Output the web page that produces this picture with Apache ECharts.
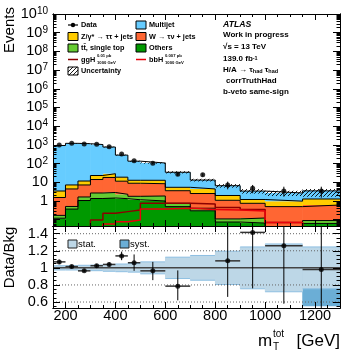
<!DOCTYPE html>
<html><head><meta charset="utf-8">
<script src="https://cdn.jsdelivr.net/npm/echarts@6/dist/echarts.min.js"></script>
<style>html,body{margin:0;padding:0;background:#fff}#c{width:343px;height:352px}</style>
</head><body><div id="c"></div>
<script>
// ---------------- data ----------------
const binEdges   = [150,200,250,300,350,400,450,500,600,700,800,900,1000,1150,1300];
const dataVals   = [990,1230,1120,1070,800,325,143,104,27,25,7.2,4.8,3.4,3.4];
const dataErrLo  = [955,1195,1087,1040,775,307,131,94,22,20,4.2,2.6,1.7,1.5];
const dataErrHi  = [1025,1265,1153,1100,826,343,155,114,32,30,10.8,7.2,5.8,5.8];
const others     = [0.12,0.37,1.06,1.36,1.45,1.33,1.17,1.0,0.5,0.30,0.075,0.066,0.01,0.063];
const ttbar      = [0.05,0.14,0.58,1.32,1.40,0.95,0.61,0.85,0.25,0.11,0.035,0.057,0.01,0.027];
const wjets      = [1.37,3.9,5.56,11.4,15.3,9.2,7.1,6.55,2.8,2.1,0.98,0.63,0.48,0.52];
const zjets      = [1.88,2.8,4.5,9.0,10.7,7.3,3.95,4.4,1.85,1.9,0.88,0.45,0.48,0.67];
const multijet   = [922,1205,1148,1021,740,266,122,95,29,8.8,4.6,2.2,1.7,2.2];
const ggH        = [1e-4,1e-4,1e-4,0.096,0.22,0.27,0.33,0.75,0.75,0.7,0.45,0.35,0.07,1e-4];
const bbH        = [1e-4,1e-4,1e-4,1e-4,0.059,0.078,0.096,0.37,0.41,0.35,0.33,0.29,0.07,1e-4];
const ratioVals  = [1.07,1.015,0.965,1.025,1.04,1.14,1.06,0.965,0.786,1.9,1.082,1.415,1.26,0.98];
const ratioLo    = [1.045,0.995,0.95,1.005,1.015,1.09,0.965,0.856,0.62,1.6,0.66,0.76,0.58,0.3];
const ratioHi    = [1.095,1.035,0.985,1.045,1.065,1.19,1.157,1.07,0.97,2.3,1.8,2.1,2.2,1.9];
const statErr    = [0.025,0.025,0.03,0.033,0.04,0.045,0.05,0.07,0.125,0.145,0.195,0.245,0.28,0.245];
const systDn     = [0.02,0.02,0.02,0.02,0.02,0.03,0.03,0.04,0.06,0.08,0.1,0.12,0.14,0.45];
const systUp     = [0.02,0.02,0.02,0.02,0.02,0.03,0.03,0.04,0.06,0.08,0.1,0.12,0.14,0.0];
const xLabelTicks   = [200,400,600,800,1000,1200];
const yMainLabels   = [1,10,100,1e3,1e4,1e5,1e6,1e7,1e8,1e9,1e10];
const yRatioLabels  = [0.6,0.8,1,1.2,1.4];
const ratioGridLines = [0.6,0.8,1.2,1.4];

// ---------------- helpers ----------------
const F = "'Liberation Sans', Arial, Helvetica, sans-serif";
const nB = dataVals.length;
const centers = dataVals.map((v,i)=>(binEdges[i]+binEdges[i+1])/2);
const stepData = vals => binEdges.map((e,i)=>[e, vals[Math.min(i, vals.length-1)]]);
const xMinor = []; for (let v=150; v<=1300; v+=50) xMinor.push(v);
const yMainMajor = [0.1].concat(yMainLabels);
const yMainMinor = []; for (let k=-2;k<=9;k++) for (let m=2;m<=9;m++) yMainMinor.push(+(m*Math.pow(10,k)).toPrecision(3));
const yRatioMinor = []; for (let k=11;k<=29;k++) yRatioMinor.push(+(k*0.05).toFixed(2));

function hatch(){
  const c=document.createElement('canvas'); c.width=4; c.height=4;
  const g=c.getContext('2d'); g.strokeStyle='#000'; g.lineWidth=0.9;
  g.beginPath(); g.moveTo(0,4); g.lineTo(4,0); g.moveTo(-1,1); g.lineTo(1,-1); g.moveTo(3,5); g.lineTo(5,3); g.stroke();
  return {image:c, repeat:'repeat'};
}
const HATCH = hatch();

function xAx(grid,pos,ticks,len,labels){
  return {type:'value',gridIndex:grid,position:pos,min:150,max:1300,z:10,
    axisLine:{show:true,onZero:false,lineStyle:{color:'#000',width:1}},
    axisTick:{show:true,inside:true,length:len,customValues:ticks,lineStyle:{color:'#000',width:1}},
    axisLabel:labels?{show:true,customValues:labels,color:'#000',fontSize:14.5,fontFamily:F,margin:0,formatter:v=>String(v)}:{show:false},
    splitLine:{show:false}};
}
function yAx(grid,pos,type,min,max,ticks,len,labels,fmt){
  const o={type:type,gridIndex:grid,position:pos,min:min,max:max,z:10,
    axisLine:{show:true,onZero:false,lineStyle:{color:'#000',width:1}},
    axisTick:{show:true,inside:true,length:len,customValues:ticks,lineStyle:{color:'#000',width:1}},
    axisLabel:{show:false},splitLine:{show:false}};
  if(type==='log') o.logBase=10;
  if(labels) o.axisLabel={show:true,customValues:labels,color:'#000',fontSize:14.5,fontFamily:F,margin:5,formatter:fmt,
     rich:{s:{fontSize:10,fontFamily:F,color:'#000',verticalAlign:'top'}}};
  return o;
}
const yMin=0.046, yMax=1e10, rMin=0.53, rMax=1.49;
const logFmt = v => { const p=Math.round(Math.log10(v)); return p===0?'1':(p===1?'10':'10{s|'+p+'}'); };
const ratFmt = v => (Math.abs(v-1)<1e-9?'1':String(v));

const comps=[
  {vals:others,color:'#009900'},
  {vals:ttbar,color:'#66cc33'},
  {vals:wjets,color:'#ff6633'},
  {vals:zjets,color:'#ffcc00'},
  {vals:multijet,color:'#66ccff'}];
// cumulative stack boundaries
const cum=[]; let run=new Array(nB).fill(0);
comps.forEach(c=>{ run=run.map((r,i)=>r+c.vals[i]); cum.push(run.slice()); });
const totals = cum[cum.length-1];

const series=[];
const fillData=[];
comps.forEach((c,k)=>{ for(let i=0;i<nB;i++) fillData.push([binEdges[i],binEdges[i+1],k===0?1e-4:cum[k-1][i],cum[k][i],k]); });
series.push({type:'custom',xAxisIndex:0,yAxisIndex:0,clip:true,z:2,silent:true,data:fillData,encode:{x:[0,1],y:[2,3]},
  renderItem:(p,api)=>{const a=api.coord([api.value(0),api.value(3)]),b=api.coord([api.value(1),api.value(2)]);
    return {type:'rect',shape:{x:a[0]-0.3,y:a[1],width:b[0]-a[0]+0.6,height:b[1]-a[1]},style:{fill:comps[api.value(4)].color}};}});
cum.forEach(cv=>series.push({type:'line',xAxisIndex:0,yAxisIndex:0,step:'end',data:stepData(cv),symbol:'none',
  lineStyle:{color:'#000',width:1},z:3,silent:true}));
series.push({type:'custom',xAxisIndex:0,yAxisIndex:0,clip:true,z:3,silent:true,
  data: totals.map((t,i)=>[binEdges[i],binEdges[i+1],t*(1-Math.hypot(statErr[i],systDn[i])),t*(1+Math.hypot(statErr[i],systUp[i]))]),
  encode:{x:[0,1],y:[2,3]},
  renderItem:(p,api)=>{const a=api.coord([api.value(0),api.value(3)]),b=api.coord([api.value(1),api.value(2)]);
    return {type:'rect',shape:{x:a[0],y:a[1],width:b[0]-a[0],height:b[1]-a[1]},style:{fill:HATCH}};}});
series.push({type:'line',xAxisIndex:0,yAxisIndex:0,step:'end',data:stepData(ggH),symbol:'none',lineStyle:{color:'#8b0000',width:1.5},z:4,silent:true});
series.push({type:'line',xAxisIndex:0,yAxisIndex:0,step:'end',data:stepData(bbH),symbol:'none',lineStyle:{color:'#e8000b',width:1.5},z:4,silent:true});
series.push({type:'custom',xAxisIndex:0,yAxisIndex:0,clip:true,z:5,silent:true,
  data: centers.map((c,i)=>[c,dataErrLo[i],dataErrHi[i]]),encode:{x:0,y:[1,2]},
  renderItem:(p,api)=>{const a=api.coord([api.value(0),api.value(1)]),b=api.coord([api.value(0),api.value(2)]);
    return {type:'line',shape:{x1:a[0],y1:a[1],x2:b[0],y2:b[1]},style:{stroke:'#000',lineWidth:1}};}});
series.push({type:'scatter',xAxisIndex:0,yAxisIndex:0,data:centers.map((c,i)=>[c,dataVals[i]]),symbol:'circle',symbolSize:5,
  itemStyle:{color:'#000'},z:6,silent:true});

function bandSeries(lo,hi,fill,edge,z){
  return {type:'custom',xAxisIndex:4,yAxisIndex:4,clip:true,z:z,silent:true,
    data: centers.map((c,i)=>[binEdges[i],binEdges[i+1],1-lo[i],1+hi[i]]),encode:{x:[0,1],y:[2,3]},
    renderItem:(p,api)=>{const a=api.coord([api.value(0),api.value(3)]),b=api.coord([api.value(1),api.value(2)]);
      const ch=[{type:'rect',shape:{x:a[0]-0.3,y:a[1],width:b[0]-a[0]+0.6,height:b[1]-a[1]},style:{fill:fill}}];
      if(edge){ch.push({type:'line',shape:{x1:a[0],y1:a[1],x2:b[0],y2:a[1]},style:{stroke:edge,lineWidth:1}});
               ch.push({type:'line',shape:{x1:a[0],y1:b[1],x2:b[0],y2:b[1]},style:{stroke:edge,lineWidth:1}});}
      return {type:'group',children:ch};}};
}
series.push(bandSeries(systDn,systUp,'#6baed6',null,2));
series.push(bandSeries(statErr,statErr,'#bdd7e7','#8ebfe2',2));
series.push({type:'custom',xAxisIndex:4,yAxisIndex:4,clip:true,z:3,silent:true,data:ratioGridLines.map(v=>[150,v]),encode:{x:0,y:1},
  renderItem:(p,api)=>{const a=api.coord([150,api.value(1)]),b=api.coord([1300,api.value(1)]);
    return {type:'line',shape:{x1:a[0],y1:a[1],x2:b[0],y2:b[1]},style:{stroke:'#666',lineWidth:1,lineDash:[1,2]}};}});
series.push({type:'custom',xAxisIndex:4,yAxisIndex:4,clip:true,z:3,silent:true,data:[[150,1]],encode:{x:0,y:1},
  renderItem:(p,api)=>{const a=api.coord([150,1]),b=api.coord([1300,1]);
    return {type:'line',shape:{x1:a[0],y1:a[1],x2:b[0],y2:b[1]},style:{stroke:'#444',lineWidth:1.5}};}});
series.push({type:'custom',xAxisIndex:4,yAxisIndex:4,clip:true,z:5,silent:true,
  data: centers.map((c,i)=>[c,ratioVals[i],ratioLo[i],ratioHi[i],binEdges[i],binEdges[i+1]]),encode:{x:0,y:1},
  renderItem:(p,api)=>{const y=api.value(1);
    const h1=api.coord([api.value(4),y]),h2=api.coord([api.value(5),y]);
    const v1=api.coord([api.value(0),api.value(2)]),v2=api.coord([api.value(0),api.value(3)]);
    return {type:'group',children:[
      {type:'line',shape:{x1:h1[0],y1:h1[1],x2:h2[0],y2:h2[1]},style:{stroke:'#333',lineWidth:1.5}},
      {type:'line',shape:{x1:v1[0],y1:v1[1],x2:v2[0],y2:v2[1]},style:{stroke:'#000',lineWidth:1}}]};}});
series.push({type:'scatter',xAxisIndex:4,yAxisIndex:4,data:centers.map((c,i)=>[c,ratioVals[i]]),symbol:'circle',symbolSize:5,
  itemStyle:{color:'#000'},z:6,silent:true,clip:true});

// ---------------- text / legend graphics ----------------
const LF = {fontFamily:F,fontSize:7.3,fontWeight:'bold',fill:'#000',verticalAlign:'middle',align:'left'};
const T = (x,y,text,extra)=>({type:'text',x:x,y:y,style:Object.assign({text:text},LF,extra||{})});
const box = (x,y,fill)=>({type:'rect',shape:{x:x,y:y-4,width:10,height:8},style:{fill:fill,stroke:'#000',lineWidth:1}});
const G=[];
G.push({type:'line',shape:{x1:68,y1:25,x2:78,y2:25},style:{stroke:'#000',lineWidth:1.2}});
G.push({type:'circle',shape:{cx:73,cy:25,r:2.2},style:{fill:'#000'}});
G.push(T(81,25,'Data'));
G.push(box(136,25,'#66ccff')); G.push(T(149,25,'Multijet'));
G.push(box(68,36.5,'#ffcc00')); G.push(T(81,36.5,'Z/γ* → ττ + jets'));
G.push(box(136,36.5,'#ff6633')); G.push(T(149,36.5,'W → τν + jets'));
G.push(box(68,48,'#66cc33')); G.push(T(81,48,'tt\u0304, single top'));
G.push(box(136,48,'#009900')); G.push(T(149,48,'Others'));
G.push({type:'line',shape:{x1:68,y1:59.5,x2:78,y2:59.5},style:{stroke:'#8b0000',lineWidth:1.5}});
G.push(T(81,59.5,'ggH'));
G.push(T(97,55.5,'0.01 pb',{fontSize:4.2}));
G.push(T(97,63,'1000 GeV',{fontSize:4.2}));
G.push({type:'line',shape:{x1:136,y1:59.5,x2:146,y2:59.5},style:{stroke:'#e8000b',lineWidth:1.5}});
G.push(T(149,59.5,'bbH'));
G.push(T(165,55.5,'0.007 pb',{fontSize:4.2}));
G.push(T(165,63,'1000 GeV',{fontSize:4.2}));
G.push({type:'rect',shape:{x:68,y:67,width:10,height:8},style:{fill:HATCH,stroke:'#000',lineWidth:1}});
G.push(T(81,71,'Uncertainty'));
const AF={fontSize:8,fontWeight:'bold'};
G.push(T(223,25,'ATLAS',{fontSize:8.7,fontWeight:'bold',fontStyle:'italic'}));
G.push(T(223,34.5,'Work in progress',AF));
G.push(T(223,47,'√s = 13 TeV',AF));
G.push(T(223,59,'139.0 fb{s|-1}',Object.assign({rich:{s:{fontSize:5.5,fontWeight:'bold',fontFamily:F,verticalAlign:'top'}}},AF)));
G.push(T(223,70,'H/A → τ{b|had} τ{b|had}',Object.assign({rich:{b:{fontSize:5.5,fontWeight:'bold',fontFamily:F,verticalAlign:'bottom'}}},AF)));
G.push(T(226,81,'corrTruthHad',AF));
G.push(T(223,92,'b-veto same-sign',AF));
G.push({type:'rect',shape:{x:68,y:240,width:9,height:8},style:{fill:'#bdd7e7',stroke:'#222',lineWidth:1}});
G.push(T(78,244.5,'stat.',{fontSize:9.5,fontWeight:'normal'}));
G.push({type:'rect',shape:{x:120,y:240,width:9,height:8},style:{fill:'#6baed6',stroke:'#222',lineWidth:1}});
G.push(T(130,244.5,'syst.',{fontSize:9.5,fontWeight:'normal'}));
const AT={fontFamily:F,fontSize:15,fill:'#000',fontWeight:'normal'};
G.push({type:'text',x:10,y:30,rotation:Math.PI/2,style:Object.assign({text:'Events',align:'center',verticalAlign:'middle'},AT)});
G.push({type:'text',x:10,y:257.5,rotation:Math.PI/2,style:Object.assign({text:'Data/Bkg',align:'center',verticalAlign:'middle'},AT)});
G.push({type:'text',x:340,y:341,style:Object.assign({text:'[GeV]',align:'right',verticalAlign:'middle'},AT,{fontSize:17})});
G.push({type:'text',x:258,y:341,style:Object.assign({text:'m',align:'left',verticalAlign:'middle'},AT,{fontSize:17})});
G.push({type:'text',x:273,y:334.5,style:Object.assign({text:'tot',align:'left',verticalAlign:'middle'},AT,{fontSize:10})});
G.push({type:'text',x:273,y:347,style:Object.assign({text:'T',align:'left',verticalAlign:'middle'},AT,{fontSize:10})});

const option={
  animation:false,
  backgroundColor:'#fff',
  grid:[{left:53,top:14,width:287,height:212},{left:53,top:226,width:287,height:82}],
  xAxis:[
    xAx(0,'bottom',xLabelTicks,6),xAx(0,'bottom',xMinor,3),xAx(0,'top',xLabelTicks,6),xAx(0,'top',xMinor,3),
    xAx(1,'bottom',xLabelTicks,6,xLabelTicks),xAx(1,'bottom',xMinor,3),xAx(1,'top',xLabelTicks,6),xAx(1,'top',xMinor,3)],
  yAxis:[
    yAx(0,'left','log',yMin,yMax,yMainMajor,7,yMainLabels,logFmt),yAx(0,'left','log',yMin,yMax,yMainMinor,3.5),
    yAx(0,'right','log',yMin,yMax,yMainMajor,7),yAx(0,'right','log',yMin,yMax,yMainMinor,3.5),
    yAx(1,'left','value',rMin,rMax,yRatioLabels,7,yRatioLabels,ratFmt),yAx(1,'left','value',rMin,rMax,yRatioMinor,3.5),
    yAx(1,'right','value',rMin,rMax,yRatioLabels,7),yAx(1,'right','value',rMin,rMax,yRatioMinor,3.5)],
  series:series,
  graphic:{elements:G}
};
const chart=echarts.init(document.getElementById('c'),null,{renderer:'canvas'});
chart.setOption(option);
</script></body></html>
